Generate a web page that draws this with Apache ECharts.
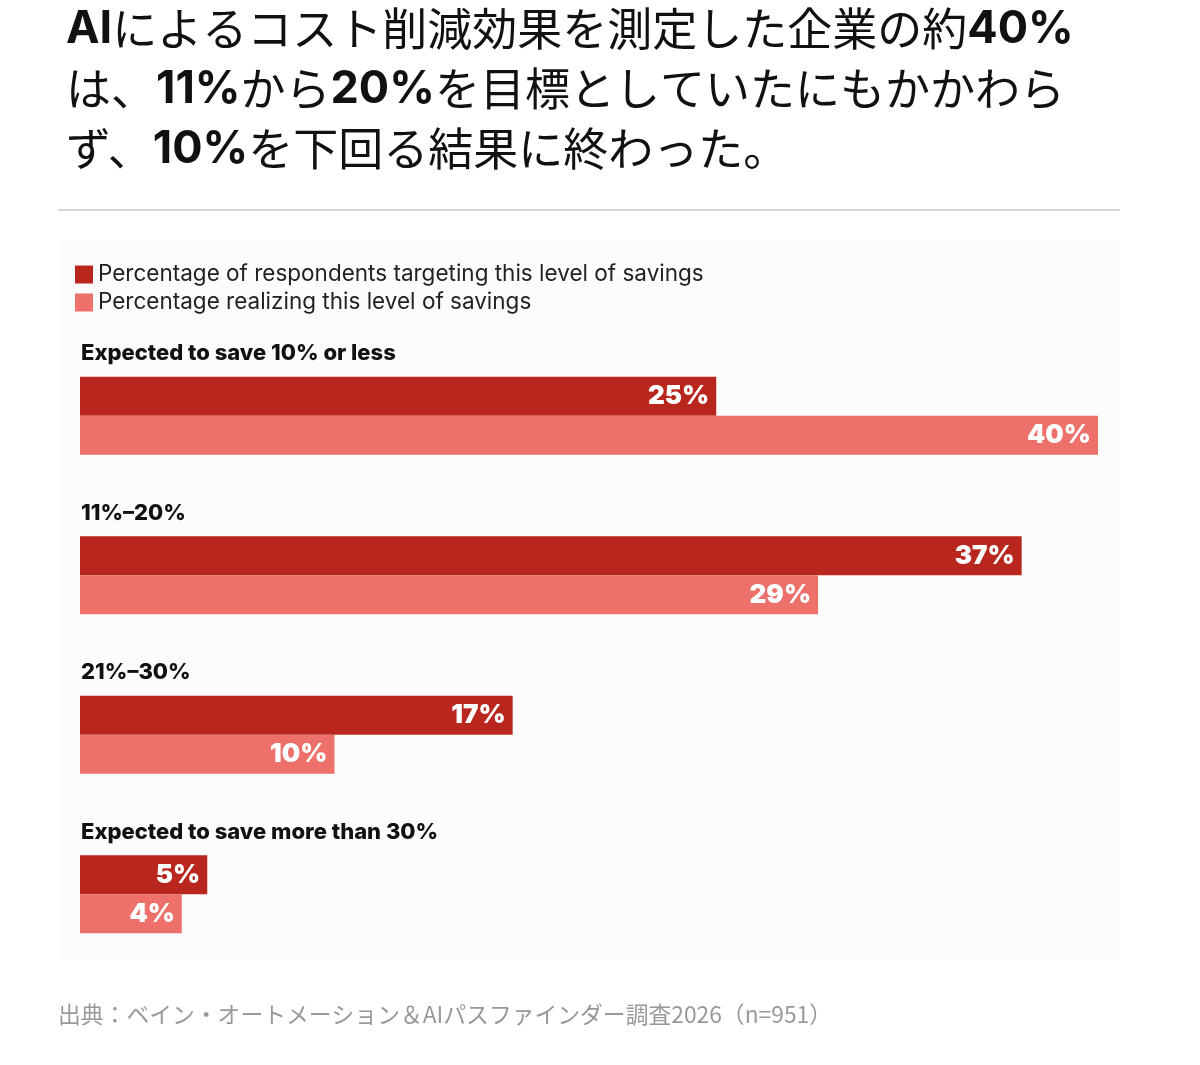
<!DOCTYPE html>
<html>
<head>
<meta charset="utf-8">
<script src="https://cdn.jsdelivr.net/npm/echarts@6/dist/echarts.min.js"></script>
<style>
html,body{margin:0;padding:0;background:#fff;}
#main{width:1200px;height:1065px;}
</style>
</head>
<body>
<div id="main"></div>
<script>
var categories=['Expected to save 10% or less','11%–20%','21%–30%','Expected to save more than 30%'];
var targeting=[25,37,17,5];
var realizing=[40,29,10,4];
var series_name=['Percentage of respondents targeting this level of savings','Percentage realizing this level of savings'];

//棒ラベル共通
function barLabel(){
	return {
		show:true,
		position:'insideRight',
		distance:7,
		formatter:'{c}%',
		color:'#fff',
		fontFamily:'Inter',
		fontWeight:900,
		fontSize:26
	};
}

var option={
	animation:false,
	backgroundColor:'#fff',
	title:[
		{
			text:'{b|AI}{r|によるコスト削減効果を測定した企業の約}{b|40%}\n{r|は、}{b|11%}{r|から}{b|20%}{r|を目標としていたにもかかわら}\n{r|ず、}{b|10%}{r|を下回る結果に終わった。}',
			left:66,
			top:-1,
			padding:0,
			textStyle:{
				fontWeight:'normal',
				rich:{
					r:{fontFamily:'Noto Sans CJK JP',fontWeight:'normal',fontSize:45,color:'#111',lineHeight:60},
					b:{fontFamily:'Inter',fontWeight:'bold',fontSize:45,color:'#111',lineHeight:60}
				}
			}
		},
		{
			text:'出典：ベイン・オートメーション＆AIパスファインダー調査2026（n=951）',
			left:58,
			top:1003,
			padding:0,
			textStyle:{fontFamily:'Noto Sans CJK JP',fontWeight:'normal',fontSize:22.8,color:'#999'}
		}
	],
	graphic:[
		{type:'line',shape:{x1:58,y1:210,x2:1120,y2:210},style:{stroke:'#d6d6d6',lineWidth:2},silent:true},
		{type:'rect',shape:{x:58,y:240,width:1062,height:720},style:{fill:'#fcfcfc'},z:-10,silent:true}
	],
	legend:{
		orient:'vertical',
		left:75,
		top:263,
		padding:0,
		itemWidth:18,
		itemHeight:18,
		itemGap:5,
		icon:'rect',
		textStyle:{fontFamily:'Inter',fontSize:22.5,color:'#222',lineHeight:20},
		data:series_name
	},
	grid:{left:80,right:102,top:336,bottom:91},
	xAxis:{
		type:'value',
		min:0,
		max:40,
		show:false
	},
	yAxis:{
		type:'category',
		data:categories,
		inverse:true,
		axisLine:{show:false},
		axisTick:{show:false},
		splitLine:{show:false},
		axisLabel:{
			inside:true,
			margin:1,
			align:'left',
			verticalAlign:'bottom',
			padding:[0,0,51,0],
			fontFamily:'Inter',
			fontWeight:800,
			fontSize:22,
			color:'#111'
		}
	},
	series:[
		{
			name:series_name[0],
			type:'bar',
			data:targeting,
			barWidth:39,
			barGap:'0%',
			itemStyle:{color:'#b9261d'},
			label:barLabel()
		},
		{
			name:series_name[1],
			type:'bar',
			data:realizing,
			barWidth:39,
			barGap:'0%',
			itemStyle:{color:'#ed706a'},
			label:barLabel()
		}
	]
};

var myChart=echarts.init(document.getElementById('main'));
myChart.setOption(option);
</script>
</body>
</html>
